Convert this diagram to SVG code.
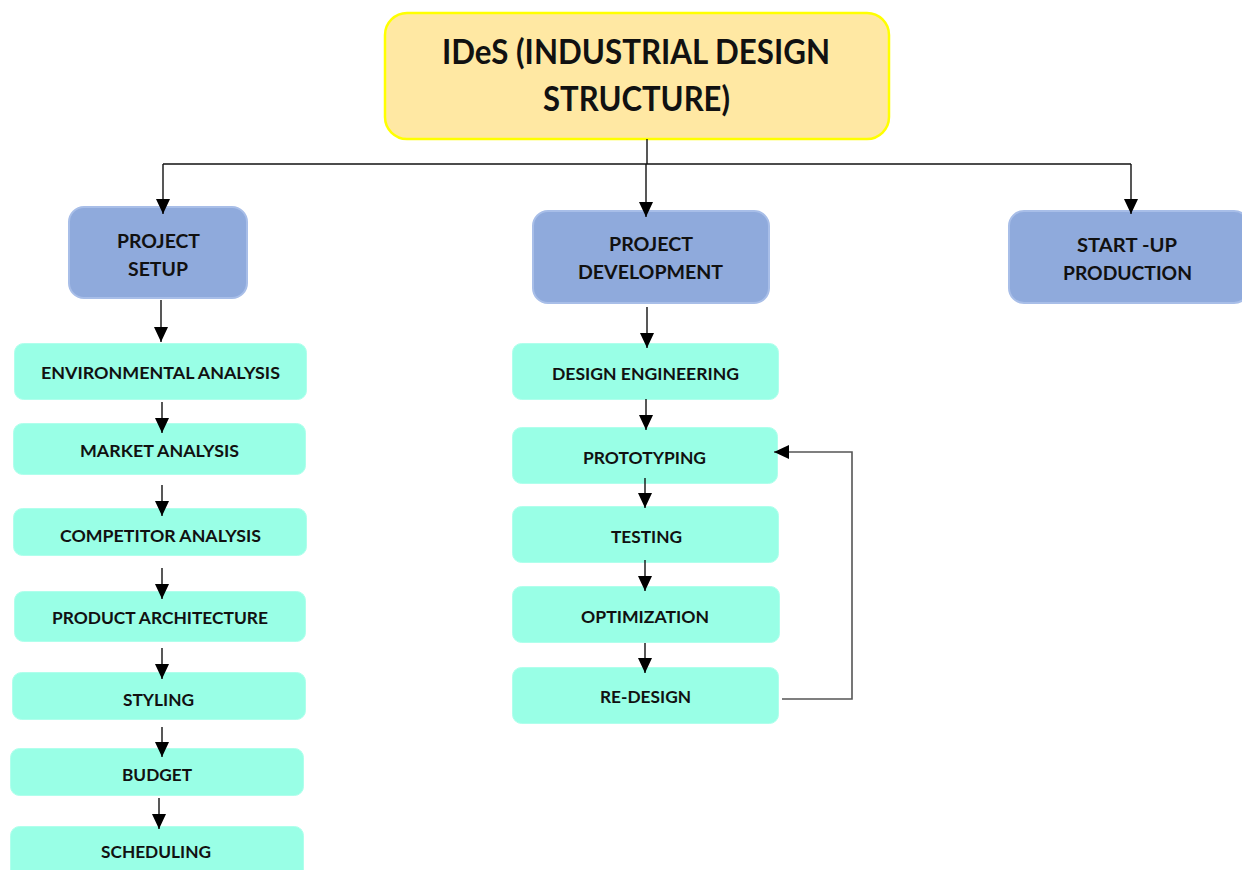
<svg xmlns="http://www.w3.org/2000/svg" width="1242" height="870" viewBox="0 0 1242 870">
<style>
text{font-family:Lato,"Open Sans","Liberation Sans",sans-serif;font-weight:bold;fill:#111;text-anchor:middle}
.t{font-size:34px}
.b{font-size:19.5px}
.s{font-size:17.5px}
.yel{fill:#FFE8A3;stroke:#FFFF00;stroke-width:2.5}
.blu{fill:#8FAADC;stroke:#A8BEE8;stroke-width:2}
.cy{fill:#99FFE6;stroke:#B0FFEC;stroke-width:1}
.ln{fill:none;stroke:#111;stroke-width:1.4}
.fb{fill:none;stroke:#555;stroke-width:1.6}
</style>
<defs>
<marker id="ah" markerUnits="userSpaceOnUse" markerWidth="15" markerHeight="15" refX="15" refY="7" orient="auto" viewBox="0 0 15 14">
<path d="M0,0 L15,7 L0,14 z" fill="#000"/>
</marker>
</defs>
<rect width="1242" height="870" fill="#fff"/>

<g id="title">
<rect class="yel" x="385" y="13" width="504" height="126" rx="22"/>
<text class="t" x="636" y="64" textLength="388" lengthAdjust="spacingAndGlyphs">IDeS (INDUSTRIAL DESIGN</text>
<text class="t" x="636.5" y="111" textLength="187" lengthAdjust="spacingAndGlyphs">STRUCTURE)</text>
</g>

<g id="project-setup">
<rect class="blu" x="69" y="207" width="178" height="91" rx="15"/>
<text class="b" x="158.5" y="248" textLength="83" lengthAdjust="spacingAndGlyphs">PROJECT</text>
<text class="b" x="158" y="276" textLength="60" lengthAdjust="spacingAndGlyphs">SETUP</text>
</g>

<g id="project-development">
<rect class="blu" x="533" y="211" width="236" height="92" rx="15"/>
<text class="b" x="651" y="251" textLength="84" lengthAdjust="spacingAndGlyphs">PROJECT</text>
<text class="b" x="650.5" y="279" textLength="145" lengthAdjust="spacingAndGlyphs">DEVELOPMENT</text>
</g>

<g id="startup-production">
<rect class="blu" x="1009" y="211" width="240" height="92" rx="15"/>
<text class="b" x="1127" y="252" textLength="100" lengthAdjust="spacingAndGlyphs">START -UP</text>
<text class="b" x="1127.5" y="280" textLength="129" lengthAdjust="spacingAndGlyphs">PRODUCTION</text>
</g>

<g id="environmental-analysis">
<rect class="cy" x="14.5" y="343.5" width="292" height="56" rx="9"/>
<text class="s" x="160.5" y="379" textLength="239" lengthAdjust="spacingAndGlyphs">ENVIRONMENTAL ANALYSIS</text>
</g>
<g id="market-analysis">
<rect class="cy" x="13.5" y="423.5" width="292" height="51" rx="9"/>
<text class="s" x="159.5" y="457" textLength="159" lengthAdjust="spacingAndGlyphs">MARKET ANALYSIS</text>
</g>
<g id="competitor-analysis">
<rect class="cy" x="13.5" y="508.5" width="293" height="47" rx="9"/>
<text class="s" x="160.5" y="542" textLength="201" lengthAdjust="spacingAndGlyphs">COMPETITOR ANALYSIS</text>
</g>
<g id="product-architecture">
<rect class="cy" x="14.5" y="591.5" width="291" height="50" rx="9"/>
<text class="s" x="160" y="624" textLength="216" lengthAdjust="spacingAndGlyphs">PRODUCT ARCHITECTURE</text>
</g>
<g id="styling">
<rect class="cy" x="12.5" y="672.5" width="293" height="47" rx="9"/>
<text class="s" x="158.5" y="706" textLength="71" lengthAdjust="spacingAndGlyphs">STYLING</text>
</g>
<g id="budget">
<rect class="cy" x="10.5" y="748.5" width="293" height="47" rx="9"/>
<text class="s" x="157" y="781" textLength="70" lengthAdjust="spacingAndGlyphs">BUDGET</text>
</g>
<g id="scheduling">
<rect class="cy" x="10.5" y="826.5" width="293" height="56" rx="9"/>
<text class="s" x="156" y="858" textLength="110" lengthAdjust="spacingAndGlyphs">SCHEDULING</text>
</g>

<g id="design-engineering">
<rect class="cy" x="512.5" y="343.5" width="266" height="56" rx="9"/>
<text class="s" x="645.5" y="380" textLength="187" lengthAdjust="spacingAndGlyphs">DESIGN ENGINEERING</text>
</g>
<g id="prototyping">
<rect class="cy" x="512.5" y="427.5" width="265" height="56" rx="9"/>
<text class="s" x="644.5" y="464" textLength="123" lengthAdjust="spacingAndGlyphs">PROTOTYPING</text>
</g>
<g id="testing">
<rect class="cy" x="512.5" y="506.5" width="266" height="56" rx="9"/>
<text class="s" x="646.5" y="543" textLength="71" lengthAdjust="spacingAndGlyphs">TESTING</text>
</g>
<g id="optimization">
<rect class="cy" x="512.5" y="586.5" width="267" height="56" rx="9"/>
<text class="s" x="645" y="623" textLength="128" lengthAdjust="spacingAndGlyphs">OPTIMIZATION</text>
</g>
<g id="re-design">
<rect class="cy" x="512.5" y="667.5" width="266" height="56" rx="9"/>
<text class="s" x="645.5" y="703" textLength="91" lengthAdjust="spacingAndGlyphs">RE-DESIGN</text>
</g>

<g id="connectors">
<path class="ln" d="M647,139 V164"/>
<path class="ln" d="M163,164 H1131"/>
<path class="ln" d="M163,164 V214" marker-end="url(#ah)"/>
<path class="ln" d="M646,164 V217" marker-end="url(#ah)"/>
<path class="ln" d="M1131,164 V214" marker-end="url(#ah)"/>
<path class="ln" d="M161,300 V342" marker-end="url(#ah)"/>
<path class="ln" d="M162,402 V433" marker-end="url(#ah)"/>
<path class="ln" d="M162,485 V516" marker-end="url(#ah)"/>
<path class="ln" d="M162,568 V599" marker-end="url(#ah)"/>
<path class="ln" d="M162,648 V679" marker-end="url(#ah)"/>
<path class="ln" d="M162,727 V757" marker-end="url(#ah)"/>
<path class="ln" d="M159,798 V829" marker-end="url(#ah)"/>
<path class="ln" d="M647,307 V348" marker-end="url(#ah)"/>
<path class="ln" d="M646,399 V430" marker-end="url(#ah)"/>
<path class="ln" d="M645,478 V508" marker-end="url(#ah)"/>
<path class="ln" d="M645,560 V591" marker-end="url(#ah)"/>
<path class="ln" d="M645,643 V673" marker-end="url(#ah)"/>
<path class="fb" d="M782,699 H852 V452 H774" marker-end="url(#ah)"/>
</g>
</svg>
